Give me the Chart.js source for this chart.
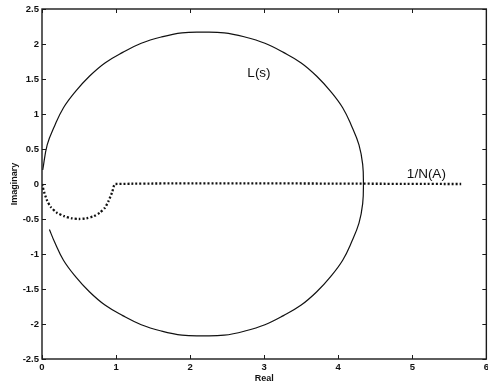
<!DOCTYPE html>
<html>
<head>
<meta charset="utf-8">
<script src="https://cdn.jsdelivr.net/npm/chart.js@4/dist/chart.umd.min.js"></script>
<style>
	html, body { margin: 0; padding: 0; background: #fff; overflow: hidden; }
	#wrap { width: 492px; height: 389px; }
</style>
</head>
<body>
<div id="wrap"><canvas id="nyquist"></canvas></div>
<script>
// L(s) locus, read along the curve from its lower end round to the upper end
const locusRe = [0.10, 0.17, 0.29, 0.45, 0.64, 0.85, 1.09, 1.34, 1.61, 1.89,
	2.17, 2.46, 2.74, 3.01, 3.26, 3.50, 3.71, 3.90, 4.06, 4.18, 4.28, 4.33, 4.34,
	4.33, 4.28, 4.18, 4.06, 3.90, 3.71, 3.50, 3.26, 3.01, 2.74, 2.46, 2.17,
	1.89, 1.61, 1.34, 1.09, 0.85, 0.64, 0.45, 0.29, 0.17, 0.07, 0.01];
const locusIm = [-0.65, -0.83, -1.09, -1.32, -1.54, -1.73, -1.88, -2.01, -2.10, -2.16,
	-2.17, -2.16, -2.10, -2.01, -1.88, -1.73, -1.54, -1.32, -1.09, -0.83, -0.56, -0.28, 0,
	0.28, 0.56, 0.83, 1.09, 1.32, 1.54, 1.73, 1.88, 2.01, 2.10, 2.16, 2.17,
	2.16, 2.10, 2.01, 1.88, 1.73, 1.54, 1.32, 1.09, 0.83, 0.56, 0.20];

// describing function locus 1/N(A)
const dfRe = [0, 0.03, 0.07, 0.12, 0.2, 0.3, 0.4, 0.5, 0.6, 0.7, 0.78, 0.85, 0.9, 0.95, 0.99, 5.66];
const dfIm = [0, -0.12, -0.24, -0.33, -0.41, -0.46, -0.49, -0.5, -0.49, -0.46, -0.41, -0.34, -0.24, -0.11, 0, 0];

const xTicks = [0, 1, 2, 3, 4, 5, 6];
const yTicks = [-2.5, -2, -1.5, -1, -0.5, 0, 0.5, 1, 1.5, 2, 2.5];

// text placed on the plot, in data units
const notes = [
	{ text: 'L(s)', x: 2.93, y: 1.58 },
	{ text: '1/N(A)', x: 5.19, y: 0.14 },
];

const toPoints = (xs, ys) => xs.map((x, i) => ({ x: x, y: ys[i] }));

// Frame with inward ticks on all four sides, plus the curve labels
const framePlugin = {
	id: 'frame',
	afterDatasetsDraw(chart) {
		const { ctx, chartArea: a, scales } = chart;
		ctx.save();
		ctx.strokeStyle = '#1a1a1a';
		ctx.lineWidth = 1.4;
		ctx.strokeRect(a.left, a.top, a.right - a.left, a.bottom - a.top);
		ctx.lineWidth = 1;
		const len = 4;
		ctx.beginPath();
		xTicks.forEach((v) => {
			const px = Math.round(scales.x.getPixelForValue(v)) + 0.5;
			ctx.moveTo(px, a.bottom); ctx.lineTo(px, a.bottom - len);
			ctx.moveTo(px, a.top); ctx.lineTo(px, a.top + len);
		});
		yTicks.forEach((v) => {
			const py = Math.round(scales.y.getPixelForValue(v)) + 0.5;
			ctx.moveTo(a.left, py); ctx.lineTo(a.left + len, py);
			ctx.moveTo(a.right, py); ctx.lineTo(a.right - len, py);
		});
		ctx.stroke();

		ctx.fillStyle = '#111';
		ctx.font = '13.5px "Liberation Sans", Arial, sans-serif';
		ctx.textAlign = 'center';
		ctx.textBaseline = 'middle';
		notes.forEach((n) => {
			ctx.fillText(n.text, scales.x.getPixelForValue(n.x), scales.y.getPixelForValue(n.y));
		});
		ctx.restore();
	},
};

const tickFont = { family: '"Liberation Sans", Arial, sans-serif', size: 9.5, weight: 'bold' };
const titleFont = { family: '"Liberation Sans", Arial, sans-serif', size: 9, weight: 'bold' };

new Chart(document.getElementById('nyquist').getContext('2d'), {
	type: 'scatter',
	data: {
		datasets: [
			{
				label: 'L(s)',
				data: toPoints(locusRe, locusIm),
				showLine: true,
				borderColor: '#111',
				borderWidth: 1.2,
				pointRadius: 0,
				tension: 0.4,
			},
			{
				label: '1/N(A)',
				data: toPoints(dfRe, dfIm),
				showLine: true,
				borderColor: '#111',
				borderWidth: 2.3,
				borderDash: [2, 2],
				borderCapStyle: 'butt',
				pointRadius: 0,
				tension: 0.2,
			},
		],
	},
	options: {
		responsive: true,
		maintainAspectRatio: false,
		animation: false,
		layout: { padding: { left: 0, top: 9, right: 3, bottom: 0 } },
		plugins: {
			legend: { display: false },
			tooltip: { enabled: false },
		},
		scales: {
			x: {
				type: 'linear',
				min: 0,
				max: 6,
				afterBuildTicks: (scale) => { scale.ticks = xTicks.map((v) => ({ value: v })); },
				afterFit: (scale) => { scale.height = 30; },
				grid: { drawOnChartArea: false, drawTicks: false },
				border: { display: false },
				ticks: { color: '#111', font: tickFont, padding: 3, maxRotation: 0, callback: (v) => String(v) },
				title: {
					display: true,
					text: 'Real',
					color: '#111',
					font: titleFont,
					padding: { top: 0, bottom: 5 },
				},
			},
			y: {
				type: 'linear',
				min: -2.5,
				max: 2.5,
				afterBuildTicks: (scale) => { scale.ticks = yTicks.map((v) => ({ value: v })); },
				afterFit: (scale) => { scale.width = 42; },
				grid: { drawOnChartArea: false, drawTicks: false },
				border: { display: false },
				ticks: { color: '#111', font: tickFont, padding: 3, callback: (v) => String(v) },
				title: {
					display: true,
					text: 'Imaginary',
					color: '#111',
					font: titleFont,
					padding: { top: 9, bottom: 0 },
				},
			},
		},
	},
	plugins: [framePlugin],
});
</script>
</body>
</html>
